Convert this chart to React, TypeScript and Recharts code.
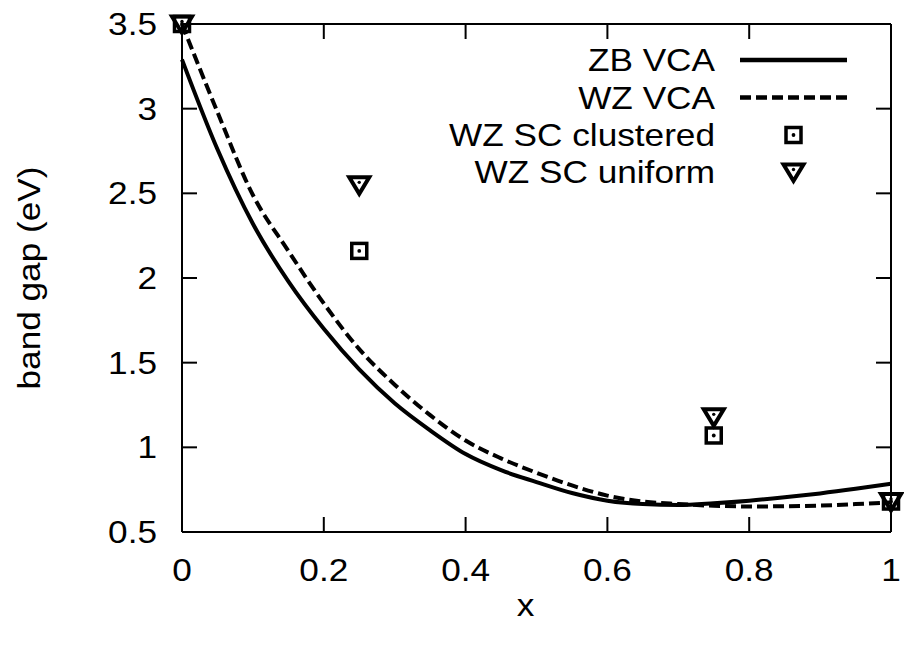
import { ComposedChart, Line, Scatter, XAxis, YAxis, ReferenceLine, Legend } from 'recharts'

// composition grid and the two VCA curves
const xs = [0, 0.05, 0.1, 0.15, 0.2, 0.25, 0.3, 0.35, 0.4, 0.45, 0.5, 0.55, 0.6, 0.65, 0.7, 0.75, 0.8, 0.85, 0.9, 0.95, 1]
const zbVca = [3.29, 2.76, 2.32, 1.98, 1.7, 1.46, 1.26, 1.1, 0.96, 0.865, 0.795, 0.73, 0.685, 0.665, 0.66, 0.67, 0.685, 0.705, 0.728, 0.755, 0.785]
const wzVca = [3.5, 2.98, 2.49, 2.16, 1.85, 1.58, 1.37, 1.19, 1.04, 0.935, 0.85, 0.775, 0.715, 0.68, 0.665, 0.655, 0.651, 0.652, 0.656, 0.665, 0.675]

// supercell results
const scX = [0, 0.25, 0.75, 1]
const scClustered = [3.5, 2.16, 1.07, 0.68]
const scUniform = [3.5, 2.55, 1.18, 0.68]

const xTicks = [0, 0.2, 0.4, 0.6, 0.8, 1]
const yTicks = [0.5, 1, 1.5, 2, 2.5, 3, 3.5]
const seriesNames = ['ZB VCA', 'WZ VCA', 'WZ SC clustered', 'WZ SC uniform']

const W = 904
const H = 645
const PLOT_TOP = 24
const PLOT_RIGHT = 891
const TICK = 15
const FONT = 32
const SX = 1.1
const FAMILY = '"Liberation Sans", Arial, Helvetica, sans-serif'

const zbData = xs.map((x, i) => ({ x, y: zbVca[i] }))
const wzData = xs.map((x, i) => ({ x, y: wzVca[i] }))
const clusteredData = scX.map((x, i) => ({ x, y: scClustered[i] }))
const uniformData = scX.map((x, i) => ({ x, y: scUniform[i] }))

function Txt({ x, y, children, anchor = 'middle', rotate = 0 }: any) {
  return (
    <text
      transform={`translate(${x},${y}) rotate(${rotate}) scale(${SX},1)`}
      textAnchor={anchor}
      fontFamily={FAMILY}
      fontSize={FONT}
      fill="#000"
    >
      {children}
    </text>
  )
}

function XTick({ x, y, payload }: any) {
  return (
    <g>
      <line x1={x} x2={x} y1={y} y2={y - TICK} stroke="#000" strokeWidth={2} />
      <line x1={x} x2={x} y1={PLOT_TOP} y2={PLOT_TOP + TICK} stroke="#000" strokeWidth={2} />
      <Txt x={x} y={y + 49}>{String(payload.value)}</Txt>
    </g>
  )
}

function YTick({ x, y, payload }: any) {
  return (
    <g>
      <line x1={x} x2={x + TICK} y1={y} y2={y} stroke="#000" strokeWidth={2} />
      <line x1={PLOT_RIGHT - TICK} x2={PLOT_RIGHT} y1={y} y2={y} stroke="#000" strokeWidth={2} />
      <Txt x={x - 25} y={y + 11} anchor="end">{String(payload.value)}</Txt>
    </g>
  )
}

function Square({ cx, cy }: any) {
  return (
    <g>
      <rect x={cx - 7.5} y={cy - 7.5} width={15} height={15} fill="none" stroke="#000" strokeWidth={3.5} />
      <circle cx={cx} cy={cy} r={1.9} fill="#000" />
    </g>
  )
}

function Triangle({ cx, cy }: any) {
  return (
    <g>
      <polygon
        points={`${cx - 10},${cy - 7.5} ${cx + 10},${cy - 7.5} ${cx},${cy + 9}`}
        fill="none"
        stroke="#000"
        strokeWidth={4}
        strokeLinejoin="miter"
      />
      <circle cx={cx} cy={cy - 2.5} r={1.7} fill="#000" />
    </g>
  )
}

const LEG_X = 420
const LEG_Y = 40

function KeyBox() {
  const rows = [60, 97.5, 135, 172]
  const textRight = 715 - LEG_X
  const s0 = 740 - LEG_X
  const s1 = 847 - LEG_X
  const mid = (s0 + s1) / 2
  return (
    <svg width={460} height={160} style={{ overflow: 'visible' }}>
      {seriesNames.map((name, i) => {
        const ry = rows[i] - LEG_Y
        return (
          <g key={name}>
            <Txt x={textRight} y={ry + 11} anchor="end">{name}</Txt>
            {i === 0 && <line x1={s0} x2={s1} y1={ry} y2={ry} stroke="#000" strokeWidth={4.5} />}
            {i === 1 && <line x1={s0} x2={s1} y1={ry} y2={ry} stroke="#000" strokeWidth={4.5} strokeDasharray="11 5" />}
            {i === 2 && <Square cx={mid} cy={ry} />}
            {i === 3 && <Triangle cx={mid} cy={ry} />}
          </g>
        )
      })}
    </svg>
  )
}

export default function App() {
  return (
    <div style={{ position: 'absolute', left: 0, top: 0, width: W, height: H, background: '#fff' }}>
      <ComposedChart width={W} height={H} margin={{ top: PLOT_TOP, right: W - PLOT_RIGHT, left: 0, bottom: 0 }}>
        <XAxis
          dataKey="x"
          type="number"
          domain={[0, 1]}
          ticks={xTicks}
          height={113}
          tickLine={false}
          tickSize={0}
          tickMargin={0}
          axisLine={{ stroke: '#000', strokeWidth: 2 }}
          tick={<XTick />}
          interval={0}
          allowDuplicatedCategory={false}
          label={{
            value: 'x',
            content: ({ viewBox }: any) => (
              <Txt x={viewBox.x + viewBox.width / 2 - 11} y={viewBox.y + 84}>x</Txt>
            ),
          }}
        />
        <YAxis
          dataKey="y"
          type="number"
          domain={[0.5, 3.5]}
          ticks={yTicks}
          width={182}
          tickLine={false}
          tickSize={0}
          tickMargin={0}
          axisLine={{ stroke: '#000', strokeWidth: 2 }}
          tick={<YTick />}
          interval={0}
          label={{
            value: 'band gap (eV)',
            content: ({ viewBox }: any) => (
              <Txt x={viewBox.x + 40} y={viewBox.y + viewBox.height / 2} rotate={-90}>
                band gap (eV)
              </Txt>
            ),
          }}
        />
        <ReferenceLine y={3.5} stroke="#000" strokeWidth={2} />
        <ReferenceLine x={1} stroke="#000" strokeWidth={2} />
        <Line
          data={zbData}
          dataKey="y"
          name={seriesNames[0]}
          type="monotone"
          stroke="#000"
          strokeWidth={4}
          dot={false}
          isAnimationActive={false}
        />
        <Line
          data={wzData}
          dataKey="y"
          name={seriesNames[1]}
          type="monotone"
          stroke="#000"
          strokeWidth={4}
          strokeDasharray="11 5"
          dot={false}
          isAnimationActive={false}
        />
        <Scatter data={clusteredData} dataKey="y" name={seriesNames[2]} shape={<Square />} isAnimationActive={false} />
        <Scatter data={uniformData} dataKey="y" name={seriesNames[3]} shape={<Triangle />} isAnimationActive={false} />
        <Legend
          layout="vertical"
          align="center"
          verticalAlign="middle"
          wrapperStyle={{ left: LEG_X, top: LEG_Y, width: 460, height: 160 }}
          content={() => <KeyBox />}
        />
      </ComposedChart>
    </div>
  )
}
